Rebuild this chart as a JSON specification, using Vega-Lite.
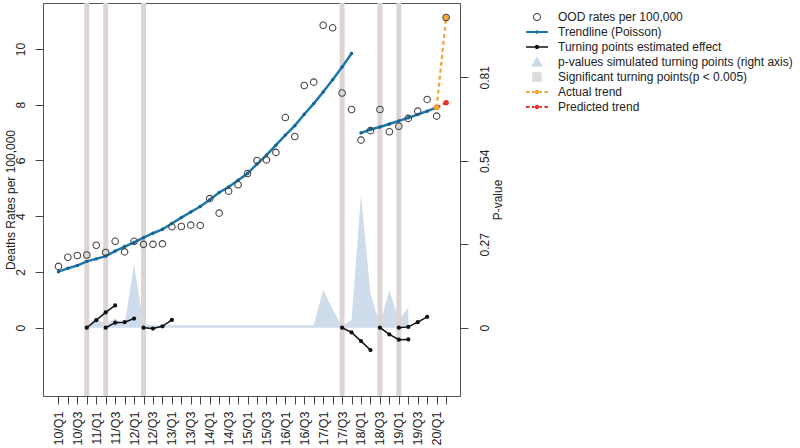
{
  "$schema": "https://vega.github.io/schema/vega-lite/v6.json",
  "width": 417,
  "height": 393,
  "autosize": {"type": "none"},
  "padding": {"left": 43, "top": 3, "right": 340, "bottom": 52},
  "background": "white",
  "config": {
    "view": {"stroke": "#555", "strokeWidth": 1},
    "font": "Liberation Sans",
    "axis": {"domain": false, "grid": false, "tickColor": "#444", "tickSize": 8, "labelColor": "#222", "labelFontSize": 12, "titleFontSize": 12, "titleFontWeight": "normal", "titleColor": "#222"}
  },
  "datasets": {
    "obs": [
      {"i": 0, "v": 2.20}, {"i": 1, "v": 2.53}, {"i": 2, "v": 2.59}, {"i": 3, "v": 2.61}, {"i": 4, "v": 2.96},
      {"i": 5, "v": 2.70}, {"i": 6, "v": 3.10}, {"i": 7, "v": 2.72}, {"i": 8, "v": 3.10}, {"i": 9, "v": 2.99},
      {"i": 10, "v": 2.99}, {"i": 11, "v": 3.01}, {"i": 12, "v": 3.62}, {"i": 13, "v": 3.63}, {"i": 14, "v": 3.68},
      {"i": 15, "v": 3.67}, {"i": 16, "v": 4.63}, {"i": 17, "v": 4.11}, {"i": 18, "v": 4.90}, {"i": 19, "v": 5.13},
      {"i": 20, "v": 5.53}, {"i": 21, "v": 6.00}, {"i": 22, "v": 6.02}, {"i": 23, "v": 6.29}, {"i": 24, "v": 7.54},
      {"i": 25, "v": 6.86}, {"i": 26, "v": 8.69}, {"i": 27, "v": 8.81}, {"i": 28, "v": 10.85}, {"i": 29, "v": 10.76},
      {"i": 30, "v": 8.42}, {"i": 31, "v": 7.83}, {"i": 32, "v": 6.73}, {"i": 33, "v": 7.07}, {"i": 34, "v": 7.83},
      {"i": 35, "v": 7.03}, {"i": 36, "v": 7.23}, {"i": 37, "v": 7.51}, {"i": 38, "v": 7.77}, {"i": 39, "v": 8.19},
      {"i": 40, "v": 7.59}, {"i": 41, "v": 11.13}
    ],
    "trend": [
      {"i": 0, "v": 2.01, "seg": "a"}, {"i": 1, "v": 2.13, "seg": "a"}, {"i": 2, "v": 2.23, "seg": "a"}, {"i": 3, "v": 2.38, "seg": "a"},
      {"i": 4, "v": 2.47, "seg": "a"}, {"i": 5, "v": 2.57, "seg": "a"}, {"i": 6, "v": 2.75, "seg": "a"}, {"i": 7, "v": 2.91, "seg": "a"},
      {"i": 8, "v": 3.06, "seg": "a"}, {"i": 9, "v": 3.23, "seg": "a"}, {"i": 10, "v": 3.39, "seg": "a"}, {"i": 11, "v": 3.53, "seg": "a"},
      {"i": 12, "v": 3.74, "seg": "a"}, {"i": 13, "v": 3.95, "seg": "a"}, {"i": 14, "v": 4.15, "seg": "a"}, {"i": 15, "v": 4.35, "seg": "a"},
      {"i": 16, "v": 4.59, "seg": "a"}, {"i": 17, "v": 4.85, "seg": "a"}, {"i": 18, "v": 5.05, "seg": "a"}, {"i": 19, "v": 5.29, "seg": "a"},
      {"i": 20, "v": 5.53, "seg": "a"}, {"i": 21, "v": 5.87, "seg": "a"}, {"i": 22, "v": 6.19, "seg": "a"}, {"i": 23, "v": 6.55, "seg": "a"},
      {"i": 24, "v": 6.91, "seg": "a"}, {"i": 25, "v": 7.25, "seg": "a"}, {"i": 26, "v": 7.66, "seg": "a"}, {"i": 27, "v": 8.04, "seg": "a"},
      {"i": 28, "v": 8.46, "seg": "a"}, {"i": 29, "v": 8.90, "seg": "a"}, {"i": 30, "v": 9.35, "seg": "a"}, {"i": 31, "v": 9.84, "seg": "a"},
      {"i": 32, "v": 6.99, "seg": "b"}, {"i": 33, "v": 7.11, "seg": "b"}, {"i": 34, "v": 7.20, "seg": "b"}, {"i": 35, "v": 7.31, "seg": "b"},
      {"i": 36, "v": 7.42, "seg": "b"}, {"i": 37, "v": 7.53, "seg": "b"}, {"i": 38, "v": 7.65, "seg": "b"}, {"i": 39, "v": 7.77, "seg": "b"},
      {"i": 40, "v": 7.90, "seg": "b"}
    ],
    "tp": [
      {"i": 3, "v": 0, "seg": "A"}, {"i": 4, "v": 0.27, "seg": "A"}, {"i": 5, "v": 0.55, "seg": "A"}, {"i": 6, "v": 0.80, "seg": "A"},
      {"i": 5, "v": 0, "seg": "B"}, {"i": 6, "v": 0.18, "seg": "B"}, {"i": 7, "v": 0.20, "seg": "B"}, {"i": 8, "v": 0.33, "seg": "B"},
      {"i": 9, "v": 0, "seg": "C"}, {"i": 10, "v": -0.03, "seg": "C"}, {"i": 11, "v": 0.05, "seg": "C"}, {"i": 12, "v": 0.28, "seg": "C"},
      {"i": 30, "v": 0, "seg": "D"}, {"i": 31, "v": -0.17, "seg": "D"}, {"i": 32, "v": -0.48, "seg": "D"}, {"i": 33, "v": -0.80, "seg": "D"},
      {"i": 34, "v": 0, "seg": "E"}, {"i": 35, "v": -0.24, "seg": "E"}, {"i": 36, "v": -0.43, "seg": "E"}, {"i": 37, "v": -0.42, "seg": "E"},
      {"i": 36, "v": 0, "seg": "F"}, {"i": 37, "v": 0.03, "seg": "F"}, {"i": 38, "v": 0.20, "seg": "F"}, {"i": 39, "v": 0.39, "seg": "F"}
    ],
    "pval": [
      {"i": 3, "p": 0.005}, {"i": 4, "p": 0.03}, {"i": 5, "p": 0.01}, {"i": 6, "p": 0.03}, {"i": 7, "p": 0.01},
      {"i": 8, "p": 0.205}, {"i": 9, "p": 0.01}, {"i": 10, "p": 0.008}, {"i": 11, "p": 0.008}, {"i": 12, "p": 0.008},
      {"i": 13, "p": 0.008}, {"i": 14, "p": 0.008}, {"i": 15, "p": 0.008}, {"i": 16, "p": 0.008}, {"i": 17, "p": 0.008},
      {"i": 18, "p": 0.008}, {"i": 19, "p": 0.008}, {"i": 20, "p": 0.008}, {"i": 21, "p": 0.008}, {"i": 22, "p": 0.008},
      {"i": 23, "p": 0.008}, {"i": 24, "p": 0.008}, {"i": 25, "p": 0.008}, {"i": 26, "p": 0.008}, {"i": 27, "p": 0.008},
      {"i": 28, "p": 0.122}, {"i": 29, "p": 0.06}, {"i": 30, "p": 0.005}, {"i": 31, "p": 0.025}, {"i": 32, "p": 0.43},
      {"i": 33, "p": 0.11}, {"i": 34, "p": 0.01}, {"i": 35, "p": 0.122}, {"i": 36, "p": 0.025}, {"i": 37, "p": 0.065}
    ],
    "bands": [{"i": 3}, {"i": 5}, {"i": 9}, {"i": 30}, {"i": 34}, {"i": 36}],
    "proj": [
      {"i": 40, "v": 7.90, "s": "Predicted trend"}, {"i": 41, "v": 8.07, "s": "Predicted trend"},
      {"i": 40, "v": 7.90, "s": "Actual trend"}, {"i": 41, "v": 11.13, "s": "Actual trend"}
    ],
    "leg": [
      {"s": "OOD rates per 100,000"}, {"s": "Trendline (Poisson)"}, {"s": "Turning points estimated effect"},
      {"s": "p-values simulated turning points (right axis)"}, {"s": "Significant turning points(p < 0.005)"},
      {"s": "Actual trend"}, {"s": "Predicted trend"}
    ]
  },
  "encoding": {
    "x": {
      "field": "i", "type": "quantitative",
      "scale": {"domain": [-1.63, 42.47], "nice": false, "zero": false},
      "axis": {
        "values": [0,1,2,3,4,5,6,7,8,9,10,11,12,13,14,15,16,17,18,19,20,21,22,23,24,25,26,27,28,29,30,31,32,33,34,35,36,37,38,39,40,41],
        "labelExpr": "datum.value % 2 == 0 ? (10 + floor(datum.value / 4)) + '/Q' + (datum.value % 4 + 1) : ''",
        "labelAngle": -90, "labelAlign": "right", "labelBaseline": "middle", "labelPadding": 7, "labelFontSize": 12.5,
        "labelOverlap": false, "labelFlush": false, "labelBound": false, "title": null
      }
    }
  },
  "layer": [
    {
      "data": {"name": "pval"},
      "mark": {"type": "area", "color": "#c9d8ea", "opacity": 0.9},
      "encoding": {
        "y": {"field": "p", "type": "quantitative", "scale": {"domain": [-0.221, 1.0505], "nice": false, "zero": false},
          "axis": {"orient": "right", "values": [0, 0.27, 0.54, 0.81], "format": ".2~f", "labelAngle": -90, "labelAlign": "center", "labelBaseline": "top", "labelPadding": 11, "title": "P-value", "titleAngle": -90, "titleBaseline": "top", "titlePadding": 2}},
        "y2": {"datum": 0}
      }
    },
    {
      "data": {"name": "bands"},
      "mark": {"type": "rule", "color": "#ddd5d3", "strokeWidth": 5},
      "encoding": {}
    },
    {
      "data": {"name": "tp"},
      "mark": {"type": "line", "color": "#111111", "strokeWidth": 1.5, "point": {"filled": true, "color": "#111111", "size": 18, "opacity": 1}},
      "encoding": {
        "y": {"field": "v", "type": "quantitative", "scale": {"domain": [-2.45, 11.65], "nice": false, "zero": false},
          "axis": {"orient": "left", "values": [0, 2, 4, 6, 8, 10], "format": "d", "labelAngle": -90, "labelAlign": "center", "labelBaseline": "bottom", "labelPadding": 8, "title": "Deaths Rates per 100,000", "titlePadding": -3}},
        "detail": {"field": "seg", "type": "nominal"}
      }
    },
    {
      "data": {"name": "trend"},
      "mark": {"type": "line", "color": "#1b78ad", "strokeWidth": 2.5, "point": {"filled": true, "color": "#16628f", "size": 12, "opacity": 1}},
      "encoding": {
        "y": {"field": "v", "type": "quantitative", "scale": {"domain": [-2.45, 11.65], "nice": false, "zero": false}, "axis": null},
        "detail": {"field": "seg", "type": "nominal"}
      }
    },
    {
      "data": {"name": "proj"},
      "mark": {"type": "line", "strokeWidth": 2.2, "strokeDash": [4, 3]},
      "encoding": {
        "y": {"field": "v", "type": "quantitative", "scale": {"domain": [-2.45, 11.65], "nice": false, "zero": false}, "axis": null},
        "color": {"field": "s", "type": "nominal", "scale": {"domain": ["Actual trend", "Predicted trend"], "range": ["#f7a531", "#e8302a"]}, "legend": null},
        "order": {"field": "s", "sort": "descending"}
      }
    },
    {
      "data": {"name": "proj"},
      "mark": {"type": "point", "filled": true, "size": 30, "opacity": 1},
      "encoding": {
        "y": {"field": "v", "type": "quantitative", "scale": {"domain": [-2.45, 11.65], "nice": false, "zero": false}, "axis": null},
        "color": {"field": "s", "type": "nominal", "scale": {"domain": ["Actual trend", "Predicted trend"], "range": ["#f7a531", "#e8302a"]}, "legend": null}
      }
    },
    {
      "data": {"name": "obs"},
      "mark": {"type": "point", "filled": false, "stroke": "#444444", "strokeWidth": 1.1, "size": 42, "opacity": 1},
      "encoding": {
        "y": {"field": "v", "type": "quantitative", "scale": {"domain": [-2.45, 11.65], "nice": false, "zero": false}, "axis": null}
      }
    },
    {
      "data": {"name": "leg"},
      "mark": {"type": "point", "filled": true, "opacity": 1},
      "encoding": {
        "fill": {"field": "s", "type": "nominal",
          "scale": {"domain": ["OOD rates per 100,000", "Trendline (Poisson)", "Turning points estimated effect", "p-values simulated turning points (right axis)", "Significant turning points(p < 0.005)", "Actual trend", "Predicted trend"],
            "range": ["#444444", "#1b78ad", "#111111", "#c9d8ea", "#dcdcdc", "#f7a531", "#e8302a"]},
          "legend": {"title": null, "orient": "none", "legendX": 488, "legendY": 8, "symbolSize": 144, "symbolStrokeWidth": 0, "symbolOpacity": 1, "labelFontSize": 12, "labelColor": "#222", "labelOffset": 15, "rowPadding": 3, "padding": 0, "labelLimit": 320}},
        "shape": {"field": "s", "type": "nominal",
          "scale": {"domain": ["OOD rates per 100,000", "Trendline (Poisson)", "Turning points estimated effect", "p-values simulated turning points (right axis)", "Significant turning points(p < 0.005)", "Actual trend", "Predicted trend"],
            "range": [
              "M0,-0.667A0.667,0.667 0 1,1 0,0.667A0.667,0.667 0 1,1 0,-0.667Z M0,-0.5A0.5,0.5 0 1,0 0,0.5A0.5,0.5 0 1,0 0,-0.5Z",
              "M-1.83,-0.18H1.83V0.18H-1.83Z M-0.3,0A0.3,0.3 0 1,1 0.3,0A0.3,0.3 0 1,1 -0.3,0Z",
              "M-1.83,-0.13H1.83V0.13H-1.83Z M-0.37,0A0.37,0.37 0 1,1 0.37,0A0.37,0.37 0 1,1 -0.37,0Z",
              "M0,-0.95L0.95,0.75H-0.95Z",
              "M-0.8,-0.8H0.8V0.8H-0.8Z",
              "M-1.83,-0.17H-1.25V0.17H-1.83Z M-0.83,-0.17H-0.42V0.17H-0.83Z M0.42,-0.17H0.83V0.17H0.42Z M1.25,-0.17H1.83V0.17H1.25Z M-0.37,0A0.37,0.37 0 1,1 0.37,0A0.37,0.37 0 1,1 -0.37,0Z",
              "M-1.83,-0.17H-1.25V0.17H-1.83Z M-0.83,-0.17H-0.42V0.17H-0.83Z M0.42,-0.17H0.83V0.17H0.42Z M1.25,-0.17H1.83V0.17H1.25Z M-0.37,0A0.37,0.37 0 1,1 0.37,0A0.37,0.37 0 1,1 -0.37,0Z"
            ]},
          "legend": {"title": null, "orient": "none", "legendX": 488, "legendY": 8, "symbolSize": 144, "symbolStrokeWidth": 0, "symbolOpacity": 1, "labelFontSize": 12, "labelColor": "#222", "labelOffset": 15, "rowPadding": 3, "padding": 0, "labelLimit": 320}}
      }
    }
  ],
  "resolve": {"scale": {"y": "independent"}}
}
